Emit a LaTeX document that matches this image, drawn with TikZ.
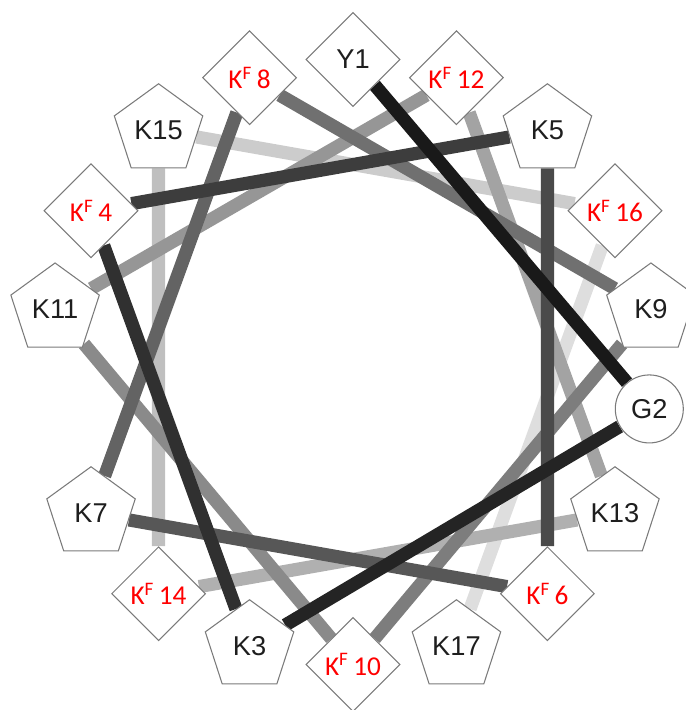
\documentclass[tikz,border=0pt]{standalone}
\usepackage{fontspec}
\setmainfont{Liberation Sans}
\newfontfamily\redfont{Carlito}
\usetikzlibrary{shapes.geometric,backgrounds}
\definecolor{rimgray}{HTML}{7A7A7A}
\definecolor{txtgray}{HTML}{1E1E1E}
\tikzset{
  res/.style={draw=rimgray, line width=0.6pt, fill=white, inner sep=0pt, text=txtgray, font=\fontsize{15.5}{17}\selectfont},
  penta/.style={res, regular polygon, regular polygon sides=5, minimum size=1.86cm},
  diam/.style={res, diamond, minimum size=1.88cm},
  reddiam/.style={diam, text=red, font=\redfont\fontsize{15.5}{17}\selectfont},
  gly/.style={res, circle, minimum size=1.36cm},
  bond/.style={line width=7.5pt}
}
\newcommand{\kf}[1]{K\textsuperscript{F}\,#1}
\begin{document}
\begin{tikzpicture}
\useasboundingbox (-7.06,-6.96) rectangle (6.66,7.24);
\node[diam] (y1) at (90:6.05) {Y1};
\node[gly] (g2) at (-9:6.0) {G2};
\node[penta] (k3) at (250:6.05) {K3};
\node[reddiam] (kf4) at (150:6.05) {\kf{4}};
\node[penta] (k5) at (50:6.05) {K5};
\node[reddiam] (kf6) at (310:6.05) {\kf{6}};
\node[penta] (k7) at (210:6.05) {K7};
\node[reddiam] (kf8) at (110:6.05) {\kf{8}};
\node[penta] (k9) at (10:6.05) {K9};
\node[reddiam] (kf10) at (270:6.05) {\kf{10}};
\node[penta] (k11) at (170:6.05) {K11};
\node[reddiam] (kf12) at (70:6.05) {\kf{12}};
\node[penta] (k13) at (330:6.05) {K13};
\node[reddiam] (kf14) at (230:6.05) {\kf{14}};
\node[penta] (k15) at (130:6.05) {K15};
\node[reddiam] (kf16) at (30:6.05) {\kf{16}};
\node[penta] (k17) at (290:6.05) {K17};
\begin{scope}[on background layer]
\draw[bond, black!13] (kf16) -- (k17);
\draw[bond, black!20] (k15) -- (kf16);
\draw[bond, black!25] (kf14) -- (k15);
\draw[bond, black!31] (k13) -- (kf14);
\draw[bond, black!36] (kf12) -- (k13);
\draw[bond, black!41] (k11) -- (kf12);
\draw[bond, black!46] (kf10) -- (k11);
\draw[bond, black!51] (k9) -- (kf10);
\draw[bond, black!56] (kf8) -- (k9);
\draw[bond, black!61] (k7) -- (kf8);
\draw[bond, black!66] (kf6) -- (k7);
\draw[bond, black!71] (k5) -- (kf6);
\draw[bond, black!76] (kf4) -- (k5);
\draw[bond, black!81] (k3) -- (kf4);
\draw[bond, black!86] (g2) -- (k3);
\draw[bond, black!90] (y1) -- (g2);
\end{scope}
\end{tikzpicture}
\end{document}
